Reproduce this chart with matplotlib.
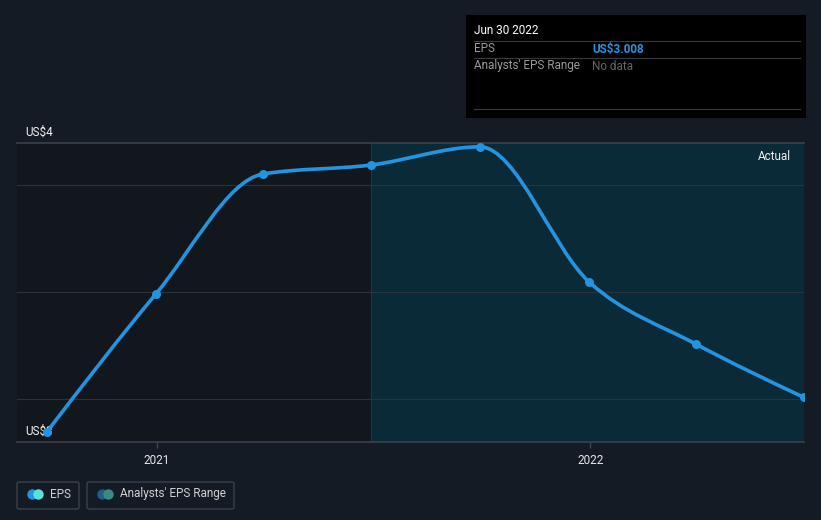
import numpy as np
import matplotlib
matplotlib.use("Agg")
import matplotlib.pyplot as plt
import matplotlib.dates as mdates
from matplotlib.path import Path
from matplotlib.patches import PathPatch, FancyBboxPatch, Rectangle
from datetime import datetime

plt.rcParams['font.family'] = ['Roboto', 'DejaVu Sans']

# EPS data (quarter ends)
dates = ["2020-09-30", "2020-12-31", "2021-03-31", "2021-06-30",
         "2021-09-30", "2021-12-31", "2022-03-31", "2022-06-30"]
eps = [2.846, 3.491, 4.051, 4.093, 4.178, 3.547, 3.257, 3.008]
forecast_start = "2021-06-30"
x_ticks = ["2021-01-01", "2022-01-01"]
x_tick_labels = ["2021", "2022"]
y_min, y_max = 2.80, 4.196
grid_vals = [3.0, 3.5, 4.0]

bg = "#151b24"
left_bg = "#12161d"
shade = "#0b2a38"
blue = "#2394df"

x = mdates.date2num([datetime.strptime(d, "%Y-%m-%d") for d in dates])
y = np.array(eps)


def monotone_path(xs, ys):
    # d3 curveMonotoneX tangents -> cubic bezier path
    n = len(xs)
    h = np.diff(xs)
    s = np.diff(ys) / h
    t = np.zeros(n)
    for i in range(1, n - 1):
        p = (s[i - 1] * h[i] + s[i] * h[i - 1]) / (h[i - 1] + h[i])
        t[i] = (np.sign(s[i - 1]) + np.sign(s[i])) * min(abs(s[i - 1]), abs(s[i]), 0.5 * abs(p))
    t[0] = (3 * s[0] - t[1]) / 2
    t[-1] = (3 * s[-1] - t[-2]) / 2
    verts = [(xs[0], ys[0])]
    codes = [Path.MOVETO]
    for i in range(n - 1):
        dx = h[i] / 3
        verts += [(xs[i] + dx, ys[i] + dx * t[i]),
                  (xs[i + 1] - dx, ys[i + 1] - dx * t[i + 1]),
                  (xs[i + 1], ys[i + 1])]
        codes += [Path.CURVE4] * 3
    return Path(verts, codes)


fig = plt.figure(figsize=(8.21, 5.2), dpi=100, facecolor=bg)
ax = fig.add_axes([17 / 821, 78 / 520, 787 / 821, 299 / 520])
ax.set_facecolor(left_bg)

x0 = x[0] - 25
x1 = x[-1]
ax.set_xlim(x0, x1)
ax.set_ylim(y_min, y_max)

fs = mdates.date2num(datetime.strptime(forecast_start, "%Y-%m-%d"))
ax.axvspan(fs, x1, color=shade, zorder=0, lw=0)
ax.axvline(fs, color="#173847", lw=0.8, zorder=1)

for g in grid_vals:
    ax.axhline(g, color="#2a323c", lw=0.8, zorder=1)
ax.axhline(y_max, color="#3a414a", lw=1.2, zorder=1, clip_on=False)
ax.axhline(y_min, color="#3a414a", lw=1.2, zorder=1, clip_on=False)

ax.add_patch(PathPatch(monotone_path(x, y), facecolor="none", edgecolor=blue,
                       lw=2.6, zorder=3, capstyle="round"))
ax.scatter(x, y, s=42, color=blue, zorder=4, clip_on=True, linewidths=0)

for sp in ax.spines.values():
    sp.set_visible(False)
ax.set_yticks([])
tx = mdates.date2num([datetime.strptime(d, "%Y-%m-%d") for d in x_ticks])
ax.set_xticks(tx)
ax.set_xticklabels(x_tick_labels)
ax.tick_params(axis="x", colors="#3e4550", length=4, width=1, pad=5,
               labelcolor="#e6e6e6", labelsize=8.5)

fig.text(25 / 821, 1 - 136 / 520, "US$4", color="#f0f0f0", fontsize=8.5,
         va="baseline")
ax.text(25 / 821, 1 - 435 / 520, "US$3", transform=fig.transFigure,
        color="#f0f0f0", fontsize=8.5, va="baseline", zorder=2)
ax.text(0.983, 0.977, "Actual", transform=ax.transAxes, color="#f0f0f0",
        fontsize=8.5, ha="right", va="top")

# tooltip
fig.patches.append(Rectangle((466 / 821, 1 - 118 / 520), 340 / 821, 103 / 520,
                             transform=fig.transFigure, facecolor="#000000",
                             edgecolor="none", zorder=5))
for ly in (41, 58, 109):
    fig.add_artist(plt.Line2D([474 / 821, 800 / 821], [1 - ly / 520, 1 - ly / 520],
                              color="#3a3a3a", lw=0.8, zorder=6))
fig.text(474 / 821, 1 - 31 / 520, "Jun 30 2022", color="#ffffff", fontsize=8.5,
         va="center", zorder=7)
fig.text(474 / 821, 1 - 49 / 520, "EPS", color="#9a9a9a", fontsize=8.5,
         va="center", zorder=7)
fig.text(592 / 821, 1 - 49 / 520, "US$3.008", color=blue, fontsize=8.5,
         fontweight="bold", va="center", zorder=7)
fig.text(474 / 821, 1 - 66 / 520, "Analysts' EPS Range", color="#9a9a9a",
         fontsize=8.5, va="center", zorder=7)
fig.text(592 / 821, 1 - 66 / 520, "No data", color="#666666", fontsize=8.5,
         va="center", zorder=7)

# legend
legend_items = [("EPS", 17, 62, "#2394df", "#5ce0d8"),
                ("Analysts' EPS Range", 87, 147, "#1f5f8a", "#3d8a84")]
for label, lx, lw_, c1, c2 in legend_items:
    fig.patches.append(FancyBboxPatch((lx / 821, 1 - 509 / 520), lw_ / 821, 27 / 520,
                                      boxstyle="round,pad=0,rounding_size=0.003",
                                      transform=fig.transFigure, facecolor="none",
                                      edgecolor="#3a414a", lw=1))
    cy = 1 - 494 / 520
    fig.add_artist(plt.Line2D([(lx + 15) / 821], [cy], marker="o", ms=7.5,
                              color=c1, mew=0, transform=fig.transFigure))
    fig.add_artist(plt.Line2D([(lx + 21) / 821], [cy], marker="o", ms=7.5,
                              color=c2, mew=0, transform=fig.transFigure))
    fig.text((lx + 33) / 821, cy, label, color="#d0d0d0", fontsize=8.5,
             va="center")

fig.savefig("out.png", dpi=100, facecolor=bg)
